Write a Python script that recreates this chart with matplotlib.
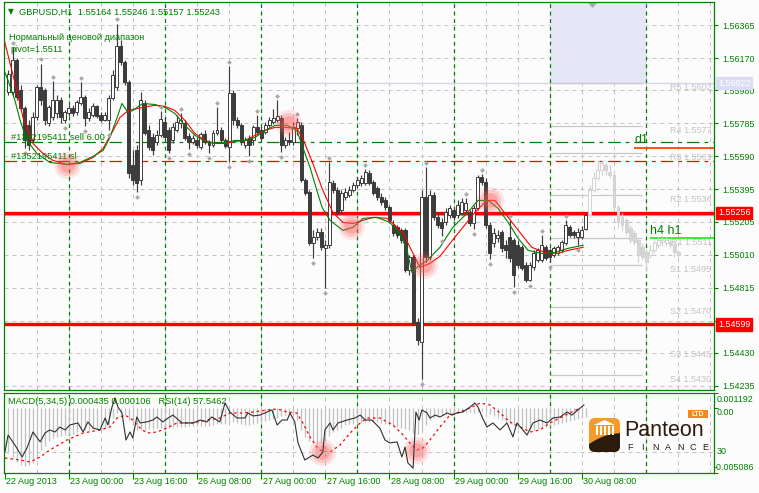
import matplotlib
matplotlib.use("Agg")
import matplotlib.pyplot as plt
import matplotlib.transforms as mtransforms
from matplotlib.patches import Rectangle, FancyBboxPatch, Polygon
import numpy as np

plt.rcParams['font.family'] = ['Liberation Sans', 'DejaVu Sans']

# ---------------- data ----------------
symbol = "GBPUSD,H1"

opens = [1.55967, 1.55967, 1.56156, 1.55979, 1.55873, 1.55773, 1.55684, 1.55820, 1.55997, 1.55979,
         1.55784, 1.55820, 1.55843, 1.55920, 1.55802, 1.55843, 1.55873, 1.55849, 1.55902, 1.55938,
         1.55814, 1.55832, 1.55885, 1.55832, 1.55802, 1.55802, 1.55932, 1.55997, 1.56244, 1.56144,
         1.56026, 1.55537, 1.55625, 1.55448, 1.55902, 1.55743, 1.55702, 1.55672, 1.55714, 1.55790,
         1.55743, 1.55684, 1.55743, 1.55784, 1.55784, 1.55708, 1.55672, 1.55684, 1.55643, 1.55719,
         1.55672, 1.55655, 1.55725, 1.55743, 1.55684, 1.55643, 1.55961, 1.55802, 1.55773, 1.55655,
         1.55696, 1.55684, 1.55761, 1.55743, 1.55731, 1.55773, 1.55790, 1.55802, 1.55814, 1.55655,
         1.55684, 1.55672, 1.55755, 1.55773, 1.55448, 1.55377, 1.55076, 1.55112, 1.55141, 1.55047,
         1.55065, 1.55430, 1.55389, 1.55271, 1.55348, 1.55360, 1.55389, 1.55419, 1.55430, 1.55430,
         1.55489, 1.55436, 1.55401, 1.55348, 1.55330, 1.55289, 1.55183, 1.55171, 1.55153, 1.55153,
         1.54917, 1.54994, 1.54610, 1.54492, 1.55348, 1.54994, 1.55360, 1.55230, 1.55200, 1.55200,
         1.55242, 1.55271, 1.55242, 1.55253, 1.55271, 1.55253, 1.55194, 1.55283, 1.55466, 1.55436,
         1.55183, 1.55076, 1.55106, 1.55141, 1.55065, 1.55112, 1.55094, 1.55065, 1.55053, 1.54947,
         1.54858, 1.54935, 1.54976, 1.54976, 1.55053, 1.55035, 1.55006, 1.55017, 1.55035, 1.55076,
         1.55171, 1.55141, 1.55112, 1.55112, 1.55164]
highs = [1.56097, 1.56233, 1.56168, 1.56009, 1.55885, 1.55802, 1.55849, 1.56009, 1.56138, 1.55991,
         1.55896, 1.56032, 1.55950, 1.55938, 1.55861, 1.55891, 1.55896, 1.55920, 1.56026, 1.55950,
         1.55873, 1.55902, 1.55896, 1.55849, 1.55849, 1.55950, 1.56097, 1.56374, 1.56274, 1.56156,
         1.56038, 1.55625, 1.55655, 1.55967, 1.55920, 1.55773, 1.55725, 1.55743, 1.55855, 1.55820,
         1.55761, 1.55784, 1.55832, 1.55843, 1.55802, 1.55725, 1.55714, 1.55702, 1.55731, 1.55743,
         1.55684, 1.55743, 1.55879, 1.55761, 1.55696, 1.56121, 1.55979, 1.55820, 1.55784, 1.55702,
         1.55714, 1.55773, 1.55832, 1.55761, 1.55790, 1.55820, 1.55867, 1.55920, 1.55832, 1.55702,
         1.55731, 1.55790, 1.55814, 1.55790, 1.55460, 1.55389, 1.55153, 1.55165, 1.55165, 1.55094,
         1.55554, 1.55448, 1.55407, 1.55389, 1.55401, 1.55413, 1.55436, 1.55466, 1.55478, 1.55513,
         1.55507, 1.55448, 1.55413, 1.55371, 1.55348, 1.55301, 1.55212, 1.55183, 1.55165, 1.55165,
         1.55006, 1.55006, 1.54634, 1.55389, 1.55525, 1.55389, 1.55377, 1.55259, 1.55224, 1.55283,
         1.55301, 1.55289, 1.55330, 1.55342, 1.55342, 1.55271, 1.55301, 1.55478, 1.55483, 1.55460,
         1.55200, 1.55165, 1.55153, 1.55153, 1.55094, 1.55212, 1.55106, 1.55094, 1.55065, 1.54964,
         1.54964, 1.55035, 1.55047, 1.55124, 1.55065, 1.55047, 1.55059, 1.55065, 1.55094, 1.55212,
         1.55183, 1.55153, 1.55165, 1.55177, 1.55246]
lows = [1.55950, 1.55955, 1.55920, 1.55861, 1.55637, 1.55625, 1.55672, 1.55802, 1.55891, 1.55773,
        1.55767, 1.55802, 1.55814, 1.55784, 1.55784, 1.55826, 1.55826, 1.55837, 1.55891, 1.55767,
        1.55796, 1.55820, 1.55814, 1.55790, 1.55796, 1.55743, 1.55920, 1.55979, 1.56132, 1.56009,
        1.55460, 1.55419, 1.55377, 1.55419, 1.55714, 1.55625, 1.55596, 1.55655, 1.55702, 1.55684,
        1.55607, 1.55666, 1.55731, 1.55755, 1.55684, 1.55631, 1.55660, 1.55637, 1.55631, 1.55660,
        1.55607, 1.55643, 1.55714, 1.55672, 1.55637, 1.55554, 1.55773, 1.55755, 1.55655, 1.55637,
        1.55590, 1.55655, 1.55714, 1.55684, 1.55719, 1.55761, 1.55778, 1.55790, 1.55613, 1.55637,
        1.55655, 1.55655, 1.55714, 1.55436, 1.55360, 1.55065, 1.54988, 1.55094, 1.55035, 1.54811,
        1.55047, 1.55371, 1.55242, 1.55253, 1.55330, 1.55348, 1.55377, 1.55401, 1.55413, 1.55419,
        1.55419, 1.55360, 1.55330, 1.55301, 1.55271, 1.55194, 1.55118, 1.55106, 1.55076, 1.54905,
        1.54888, 1.54593, 1.54475, 1.54274, 1.54964, 1.54976, 1.55212, 1.55165, 1.55118, 1.55183,
        1.55224, 1.55212, 1.55224, 1.55242, 1.55253, 1.55177, 1.55159, 1.55271, 1.55419, 1.55165,
        1.54982, 1.55053, 1.55082, 1.55023, 1.54988, 1.54964, 1.54817, 1.54929, 1.54917, 1.54846,
        1.54852, 1.54917, 1.54964, 1.54964, 1.54976, 1.54964, 1.54994, 1.55006, 1.55023, 1.55065,
        1.55112, 1.55106, 1.55065, 1.55100, 1.55157]
closes = [1.56079, 1.56156, 1.55938, 1.55873, 1.55684, 1.55655, 1.55820, 1.55997, 1.55920, 1.55802,
          1.55879, 1.55920, 1.55920, 1.55820, 1.55849, 1.55873, 1.55843, 1.55908, 1.55938, 1.55814,
          1.55849, 1.55885, 1.55826, 1.55802, 1.55832, 1.55932, 1.56068, 1.56244, 1.56144, 1.56026,
          1.55489, 1.55448, 1.55430, 1.55920, 1.55725, 1.55643, 1.55625, 1.55714, 1.55808, 1.55702,
          1.55625, 1.55761, 1.55790, 1.55802, 1.55696, 1.55672, 1.55696, 1.55655, 1.55719, 1.55672,
          1.55655, 1.55725, 1.55743, 1.55684, 1.55649, 1.55961, 1.55802, 1.55773, 1.55672, 1.55684,
          1.55655, 1.55761, 1.55731, 1.55696, 1.55773, 1.55802, 1.55814, 1.55826, 1.55655, 1.55684,
          1.55672, 1.55761, 1.55790, 1.55448, 1.55371, 1.55076, 1.55112, 1.55141, 1.55053, 1.55065,
          1.55436, 1.55389, 1.55253, 1.55371, 1.55377, 1.55389, 1.55419, 1.55448, 1.55460, 1.55495,
          1.55430, 1.55371, 1.55348, 1.55318, 1.55289, 1.55212, 1.55135, 1.55124, 1.55094, 1.54917,
          1.54994, 1.54604, 1.54504, 1.55348, 1.54994, 1.55360, 1.55230, 1.55183, 1.55165, 1.55259,
          1.55283, 1.55230, 1.55301, 1.55318, 1.55312, 1.55194, 1.55283, 1.55466, 1.55436, 1.55183,
          1.55017, 1.55135, 1.55124, 1.55047, 1.55035, 1.54988, 1.54888, 1.54947, 1.54929, 1.54858,
          1.54947, 1.55017, 1.55035, 1.55065, 1.54988, 1.54994, 1.55047, 1.55053, 1.55082, 1.55183,
          1.55124, 1.55124, 1.55141, 1.55153, 1.55243]

# projected (ghost) candles after the last bar
ghost_open = [1.55242, 1.55389, 1.55460, 1.55507, 1.55537, 1.55495, 1.55478, 1.55289, 1.55230, 1.55212,
              1.55165, 1.55135, 1.55094, 1.55053, 1.55023, 1.55006, 1.55035, 1.55065, 1.55082, 1.55076,
              1.55082, 1.55065, 1.55023]
ghost_close = [1.55389, 1.55460, 1.55507, 1.55548, 1.55507, 1.55478, 1.55289, 1.55200, 1.55183, 1.55141,
               1.55094, 1.55082, 1.55006, 1.54994, 1.54964, 1.55035, 1.55076, 1.55094, 1.55094, 1.55094,
               1.55065, 1.55023, 1.55006]
ghost_high = [1.55419, 1.55495, 1.55566, 1.55566, 1.55554, 1.55537, 1.55495, 1.55301, 1.55253, 1.55224,
              1.55183, 1.55153, 1.55106, 1.55076, 1.55047, 1.55065, 1.55094, 1.55112, 1.55124, 1.55118,
              1.55106, 1.55094, 1.55035]
ghost_low = [1.55230, 1.55377, 1.55448, 1.55478, 1.55478, 1.55460, 1.55271, 1.55165, 1.55153, 1.55124,
             1.55076, 1.55065, 1.54964, 1.54976, 1.54905, 1.54988, 1.55017, 1.55047, 1.55059, 1.55059,
             1.55047, 1.54994, 1.54988]

fractal_up = [1, 8, 11, 18, 27, 38, 43, 52, 55, 62, 67, 72, 80, 89, 104, 114, 118, 125, 133, 139]
fractal_dn = [4, 14, 19, 25, 32, 40, 45, 50, 55, 60, 68, 76, 79, 103, 108, 116, 120, 126, 130, 135, 142]

red_x = [-0.9, 0.4, 2.1, 3.6, 6.1, 8.6, 11.1, 14.6, 17.8, 21.1, 23.6, 26.1, 27.8, 29.6, 31.0, 33.5, 36.5,
         39.0, 41.5, 44.0, 46.5, 49.0, 51.5, 54.0, 56.5, 59.0, 61.5, 64.0, 66.5, 69.0, 71.9, 73.4, 75.9,
         78.4, 80.9, 83.4, 85.9, 88.4, 90.9, 94.4, 95.9, 98.4, 100.9, 102.6, 105.1, 107.6, 111.3, 116.3,
         119.3, 121.3, 124.6, 128.1, 130.5, 133.8, 137.0, 139.5, 143.3]
red_y = [1.56262, 1.56138, 1.55979, 1.55820, 1.55666, 1.55607, 1.55566, 1.55542, 1.55548, 1.55584, 1.55637,
         1.55743, 1.55820, 1.55855, 1.55867, 1.55879, 1.55891, 1.55885, 1.55861, 1.55802, 1.55725, 1.55684,
         1.55666, 1.55666, 1.55678, 1.55684, 1.55714, 1.55743, 1.55761, 1.55761, 1.55755, 1.55696, 1.55548,
         1.55389, 1.55259, 1.55200, 1.55194, 1.55212, 1.55230, 1.55224, 1.55194, 1.55135, 1.55017, 1.54935,
         1.54958, 1.55000, 1.55112, 1.55259, 1.55330, 1.55330, 1.55230, 1.55124, 1.55053, 1.55023, 1.55017,
         1.55035, 1.55053]
green_x = [-0.9, -0.1, 1.6, 2.9, 4.6, 7.1, 10.3, 14.6, 17.8, 21.1, 23.6, 25.3, 27.1, 28.3, 29.8, 31.0, 33.5,
           36.5, 39.0, 41.5, 44.0, 46.5, 49.0, 51.5, 54.0, 56.5, 59.0, 61.5, 64.0, 66.5, 69.5, 71.9, 73.4,
           75.2, 76.9, 78.2, 80.2, 83.4, 85.9, 88.4, 91.9, 95.1, 97.6, 99.4, 100.6, 101.9, 104.4, 107.6,
           110.8, 114.3, 117.1, 119.6, 122.1, 124.6, 127.1, 129.6, 133.0, 136.3, 139.5, 143.3]
green_y = [1.56085, 1.56038, 1.55920, 1.55802, 1.55684, 1.55607, 1.55554, 1.55542, 1.55554, 1.55590, 1.55625,
           1.55702, 1.55820, 1.55902, 1.55849, 1.55861, 1.55902, 1.55896, 1.55879, 1.55843, 1.55773, 1.55714,
           1.55678, 1.55666, 1.55672, 1.55684, 1.55684, 1.55702, 1.55743, 1.55773, 1.55773, 1.55743, 1.55643,
           1.55525, 1.55389, 1.55289, 1.55212, 1.55153, 1.55171, 1.55224, 1.55230, 1.55200, 1.55135, 1.55035,
           1.54905, 1.54935, 1.54976, 1.55053, 1.55171, 1.55253, 1.55330, 1.55330, 1.55283, 1.55200, 1.55106,
           1.55035, 1.55017, 1.55023, 1.55047, 1.55065]

macd_hist = [-0.00352, -0.00391, -0.00422, -0.00446, -0.00454, -0.00446, -0.00430, -0.00391, -0.00328, -0.00297,
             -0.00258, -0.00234, -0.00226, -0.00218, -0.00210, -0.00210, -0.00203, -0.00187, -0.00171, -0.00171,
             -0.00171, -0.00163, -0.00163, -0.00163, -0.00156, -0.00132, -0.00077, -0.00038, -0.00038, -0.00054,
             -0.00093, -0.00132, -0.00171, -0.00171, -0.00171, -0.00163, -0.00163, -0.00156, -0.00156, -0.00156,
             -0.00156, -0.00148, -0.00148, -0.00148, -0.00148, -0.00140, -0.00140, -0.00140, -0.00140, -0.00140,
             -0.00140, -0.00132, -0.00124, -0.00124, -0.00124, -0.00116, -0.00108, -0.00116, -0.00124, -0.00132,
             -0.00132, -0.00124, -0.00116, -0.00108, -0.00101, -0.00093, -0.00085, -0.00077, -0.00061, -0.00054,
             -0.00038, -0.00054, -0.00093, -0.00171, -0.00226, -0.00258, -0.00273, -0.00281, -0.00273, -0.00258,
             -0.00218, -0.00187, -0.00171, -0.00156, -0.00132, -0.00124, -0.00124, -0.00116, -0.00116, -0.00108,
             -0.00108, -0.00108, -0.00108, -0.00116, -0.00124, -0.00132, -0.00140, -0.00148, -0.00156, -0.00163,
             -0.00171, -0.00195, -0.00203, -0.00171, -0.00132, -0.00093, -0.00077, -0.00069, -0.00054, -0.00046,
             -0.00046, -0.00038, -0.00038, -0.00030, -0.00030, -0.00030, -0.00038, -0.00030, -0.00022, -0.00030,
             -0.00046, -0.00061, -0.00077, -0.00093, -0.00108, -0.00124, -0.00140, -0.00156, -0.00163, -0.00171,
             -0.00171, -0.00171, -0.00163, -0.00156, -0.00148, -0.00140, -0.00132, -0.00124, -0.00116, -0.00108,
             -0.00101, -0.00093, -0.00085, -0.00077, -0.00069]
signal_x = [-0.9, 2.9, 5.4, 7.9, 10.3, 14.6, 18.6, 22.8, 25.3, 27.1, 29.1, 31.0, 32.8, 34.5, 37.0, 39.5, 42.0,
            46.0, 49.5, 52.7, 55.2, 58.5, 61.0, 64.5, 67.0, 69.5, 71.9, 73.4, 75.2, 76.9, 78.4, 80.2, 82.7,
            85.2, 87.7, 89.4, 92.6, 95.9, 98.4, 100.1, 101.9, 103.4, 105.1, 107.6, 110.1, 112.6, 115.1, 117.6,
            120.1, 122.6, 125.1, 127.6, 130.1, 132.5, 135.0, 137.5, 140.0, 142.5]
signal_v = [-0.003909, -0.004066, -0.004223, -0.003831, -0.003281, -0.002496, -0.001947, -0.001712, -0.001476,
            -0.000770, -0.000535, -0.000927, -0.001555, -0.001947, -0.001869, -0.001555, -0.001162, -0.001162,
            -0.000927, -0.000770, -0.000378, -0.000378, -0.000299, -0.000142, -0.000064, -0.000299, -0.000378,
            -0.001162, -0.002261, -0.003046, -0.003438, -0.003438, -0.002889, -0.001947, -0.001162, -0.000770,
            -0.000770, -0.001319, -0.002104, -0.002732, -0.003281, -0.003124, -0.002496, -0.001476, -0.000535,
            -0.000299, 0.000015, 0.000407, 0.000250, -0.000378, -0.001084, -0.001476, -0.001869, -0.001712,
            -0.001162, -0.000770, -0.000378, 0.000015]
rsi_x = [-0.9, -0.1, 1.6, 3.4, 4.6, 6.1, 7.9, 9.1, 10.3, 11.6, 12.8, 14.1, 15.3, 17.3, 18.6, 19.8, 21.1, 22.8,
         24.1, 24.8, 25.8, 26.6, 27.3, 28.3, 29.3, 30.3, 31.0, 32.0, 32.8, 34.5, 36.0, 37.0, 38.5, 39.8, 41.0,
         43.3, 46.0, 47.8, 49.5, 50.7, 52.7, 54.0, 55.2, 57.0, 59.0, 59.7, 61.0, 62.7, 64.5, 65.7, 67.0, 68.2,
         69.5, 70.2, 71.4, 72.2, 73.9, 75.9, 77.2, 78.4, 78.9, 80.2, 80.9, 82.2, 84.4, 86.4, 87.7, 89.0, 90.6,
         92.6, 93.9, 95.1, 96.9, 98.1, 98.9, 99.6, 100.9, 101.6, 102.4, 103.1, 104.4, 105.1, 106.4, 107.6,
         109.4, 110.6, 111.8, 113.3, 115.1, 116.3, 117.1, 118.1, 119.3, 120.8, 122.6, 124.3, 125.8, 126.8,
         128.3, 129.3, 130.8, 132.5, 134.3, 135.8, 137.6, 139.3, 140.5, 142.0, 143.5]
rsi_v = [30.0, 39.9, 34.1, 27.1, 32.3, 41.7, 35.9, 41.1, 42.9, 41.7, 44.6, 42.9, 45.8, 47.0, 41.7, 47.6, 44.0,
         42.9, 49.9, 45.8, 56.3, 61.6, 56.3, 52.8, 37.0, 41.7, 38.2, 50.5, 47.0, 47.6, 48.7, 50.5, 47.6, 49.9,
         51.6, 47.0, 47.0, 48.7, 47.6, 50.5, 47.6, 58.7, 53.4, 49.9, 49.9, 52.8, 51.1, 51.6, 53.4, 54.6, 45.8,
         48.7, 48.7, 52.8, 47.6, 35.3, 25.3, 28.2, 26.5, 30.0, 42.9, 47.0, 42.9, 47.0, 48.7, 49.9, 51.6, 48.7,
         48.7, 44.0, 37.0, 35.3, 35.9, 27.1, 32.9, 23.6, 20.6, 53.4, 48.7, 54.6, 52.8, 49.9, 51.6, 50.5, 52.8,
         51.6, 52.8, 53.4, 56.3, 58.7, 56.3, 50.5, 44.6, 47.0, 42.9, 47.0, 38.8, 47.0, 42.9, 39.9, 47.0, 48.7,
         47.0, 49.9, 50.5, 53.4, 51.6, 54.6, 57.5]

signal_bars = [14.6, 69.7, 85.4, 103.6, 120.1]
signal_prices = [1.55537, 1.55784, 1.55177, 1.54947, 1.55330]
ind_signal_bars = [78.2, 101.6]
ind_signal_vals = [-0.00344, -0.00328]

price_ticks = [1.56365, 1.56170, 1.55980, 1.55785, 1.55590, 1.55395, 1.55205, 1.55010, 1.54815, 1.54620,
               1.54430, 1.54235]
hidden_ticks = [1.54620]          # label completely covered by the 1.54599 marker
date_bars = [-0.9, 15, 31, 47, 63, 79, 95, 111, 127, 143]
date_labels = ['22 Aug 2013', '23 Aug 00:00', '23 Aug 16:00', '26 Aug 08:00', '27 Aug 00:00', '27 Aug 16:00',
               '28 Aug 08:00', '29 Aug 00:00', '29 Aug 16:00', '30 Aug 08:00']
day_bars = [15, 39, 63, 87, 111, 135, 159]

levels_red = [1.55256, 1.54599]
sell_level = 1.55672
sl_level = 1.55560
d1_level = 1.55637
h1_level = 1.55106
zone_low = 1.56022
zone_x = [135, 159]
pivot_value = 1.5511
pivot_names = ['R5', 'R4', 'R3', 'R2', 'R1', 'S1', 'S2', 'S3', 'S4']
pivot_vals = [1.5602, 1.5577, 1.5561, 1.5536, 1.5511, 1.5495, 1.5470, 1.5445, 1.5430]
macd_max, macd_min = 0.001192, -0.005086
macd_txt = "MACD(5,34,5) 0.000435 0.000106   RSI(14) 57.5462"

# ---------------- layout ----------------
W, H = 759, 493
BG = '#fcfcfc'
GREEN = '#008000'
CANDLE = '#3c3c3c'
GRID = '#c2c2c2'

fig = plt.figure(figsize=(W / 100, H / 100), dpi=100, facecolor=BG)


def fx(px):
    return px / W


def fy(py):
    return 1 - py / H


X0, X1 = -1.12, 175.94
ax = fig.add_axes([fx(4), fy(390), (714 - 4) / W, (390 - 2) / H], facecolor=BG)
ax2 = fig.add_axes([fx(4), fy(473), (714 - 4) / W, (473 - 393) / H], facecolor=BG)
for a in (ax, ax2):
    a.set_xlim(X0, X1)
    for s in a.spines.values():
        s.set_color(GREEN)
        s.set_linewidth(0.9)
ax.set_ylim(1.54211, 1.56501)
ax2.set_ylim(macd_min, macd_max)
YTOP = ax.get_ylim()[1]

# grids
for a in (ax, ax2):
    for b in np.arange(7, 176, 8):
        a.axvline(b, color=GRID, lw=0.72, ls=(0, (4, 4)), zorder=0)
    for b in day_bars:
        a.axvline(b, color=GREEN, lw=0.9, ls=(0, (3, 3)), zorder=1)
for t in price_ticks:
    ax.axhline(t, color=GRID, lw=0.72, ls=(0, (4, 4)), zorder=0)

# lavender zone
ax.add_patch(Rectangle((zone_x[0], zone_low), zone_x[1] - zone_x[0], YTOP - zone_low,
                       facecolor='#e6e6f7', edgecolor='none', zorder=0.5))
ax.axhline(zone_low, color='#d6d6f0', lw=1.0, zorder=0.6)

# pivot lines
ax.hlines(pivot_vals, 135, 158, color='#c8c8c8', lw=0.9, zorder=0.7)
for n_, v in zip(pivot_names, pivot_vals):
    ax.text(175.3, v, f'{n_} {v:.4f}', ha='right', va='top', fontsize=6.5, color='#c4c4c4', zorder=0.8)

# horizontal levels
for lv in levels_red:
    ax.axhline(lv, color='#ff0000', lw=2.4, zorder=2)
ax.axhline(closes[-1], color='#b8b8b8', lw=0.9, zorder=1.9)
ax.axhline(sell_level, color=GREEN, lw=0.9, ls=(0, (10, 4, 3, 4)), zorder=2)
ax.axhline(sl_level, color='#ff0000', lw=0.9, ls=(0, (10, 4, 3, 4)), zorder=2)
ax.hlines(d1_level, 156, X1, color='#ff4500', lw=1.3, zorder=2)
ax.hlines(h1_level, 160, X1, color='#22ee22', lw=1.3, zorder=2)


def draw_candles(a, xs_, o, h, l, c, edge, bull, bear, z):
    a.vlines(xs_, l, h, color=edge, lw=0.85, zorder=z)
    for x, oo, cc in zip(xs_, o, c):
        lo, hi = min(oo, cc), max(oo, cc)
        hgt = max(hi - lo, 0.00005)
        a.add_patch(Rectangle((x - 0.37, lo), 0.74, hgt, facecolor=bull if cc >= oo else bear,
                              edgecolor=edge, lw=0.7, zorder=z + 0.1))


n = len(closes)
xs = np.arange(n)
gx = np.arange(n, n + len(ghost_close))
draw_candles(ax, gx, ghost_open, ghost_high, ghost_low, ghost_close, '#d2d2d2', '#ffffff', '#d6d6d6', 2.5)
draw_candles(ax, xs, opens, highs, lows, closes, CANDLE, '#ffffff', CANDLE, 3)

# moving averages
ax.plot(red_x, red_y, color='#ff0000', lw=0.8, zorder=4)
ax.plot(green_x, green_y, color=GREEN, lw=0.8, zorder=4.1)

# fractals
hi_arr, lo_arr = np.array(highs), np.array(lows)
ax.scatter(fractal_up, hi_arr[fractal_up] + 0.00025, marker='D', s=6, color='#a8a8a8', zorder=5, lw=0)
ax.scatter(fractal_dn, lo_arr[fractal_dn] - 0.00025, marker='D', s=6, color='#a8a8a8', zorder=5, lw=0)

# pink signal glows
for s_, al in ((380, 0.14), (230, 0.22), (110, 0.3)):
    ax.scatter(signal_bars, signal_prices, s=s_, color='#ff5a5a', alpha=al, lw=0, zorder=6)
    ax2.scatter(ind_signal_bars, ind_signal_vals, s=s_, color='#ff5a5a', alpha=al, lw=0, zorder=6)

# texts in chart
ax.text(0.6, sell_level + 0.00004, '#1352195411 sell 6.00', fontsize=6.7, color=GREEN, va='bottom', zorder=5)
ax.text(0.6, sl_level + 0.00004, '#1352195411 sl', fontsize=6.7, color=GREEN, va='bottom', zorder=5)
ax.text(156, d1_level + 0.00012, 'd1', fontsize=9, color=GREEN, va='bottom', zorder=5)
ax.text(160, h1_level + 0.00008, 'h4 h1', fontsize=9, color=GREEN, va='bottom', zorder=5)

fig.text(fx(8), fy(12), '▼', fontsize=5.5, color=GREEN, va='center', family='DejaVu Sans')
fig.text(fx(19), fy(12), f'{symbol}  {opens[-1]:.5f} {highs[-1]:.5f} {lows[-1]:.5f} {closes[-1]:.5f}',
         fontsize=6.7, color=GREEN, va='center')
fig.text(fx(9), fy(38), 'Нормальный ценовой диапазон', fontsize=6.6, color=GREEN, va='center')
fig.text(fx(10), fy(50), f'pivot={pivot_value:.4f}', fontsize=6.6, color=GREEN, va='center')

# right price axis
ax.yaxis.tick_right()
ax.set_yticks(price_ticks)
ax.set_yticklabels(['' if t in hidden_ticks else f'{t:.5f}' for t in price_ticks])
ax.tick_params(axis='y', colors=GREEN, length=3, width=0.8, pad=3, labelsize=6.4)
ax.tick_params(axis='x', length=0, labelbottom=False)

tbox = mtransforms.blended_transform_factory(fig.transFigure, ax.transData)


def price_box(val, fc, tc='white'):
    ax.text(fx(718), val, f'{val:.5f}', transform=tbox, ha='left', va='center', fontsize=6.4, color=tc,
            bbox=dict(boxstyle='square,pad=0.2', fc=fc, ec=fc), zorder=20, clip_on=False)


price_box(levels_red[0], '#ff0000')
price_box(levels_red[1], '#ff0000')
price_box(zone_low, '#dcdcf4')

# indicator panel
axr = ax2.twinx()
axr.set_ylim(17.71, 64.52)
axr.set_xlim(X0, X1)
axr.axis('off')
axr.axhline(30, color=GRID, lw=0.72, ls=(0, (4, 4)), zorder=0)
ax2.vlines(xs, 0, macd_hist, color='#c0c0c0', lw=0.9, zorder=2)
ax2.plot(signal_x, signal_v, color='#ff0000', lw=0.9, ls=(0, (2, 2.5)), zorder=3)
axr.plot(rsi_x, rsi_v, color='#303030', lw=0.8, zorder=4)
ax2.text((8 - 4) / 710, (473 - 402) / 80, macd_txt, transform=ax2.transAxes, fontsize=6.7, color=GREEN,
         va='center', ha='left', zorder=8)

ax2.yaxis.tick_right()
ax2.set_yticks([macd_max, 0.0, macd_min])
ax2.set_yticklabels([])
ax2.tick_params(axis='y', colors=GREEN, length=3, width=0.8)
ax2.set_xticks(date_bars)
ax2.set_xticklabels([])
ax2.tick_params(axis='x', colors=GREEN, length=4, width=0.8, direction='out')

t2 = mtransforms.blended_transform_factory(fig.transFigure, ax2.transData)
tr = mtransforms.blended_transform_factory(fig.transFigure, axr.transData)
ta = mtransforms.blended_transform_factory(fig.transFigure, ax2.transAxes)
fig_kw = dict(fontsize=6.4, color=GREEN, ha='left', clip_on=False)
ax2.text(fx(717), 0.92, f'{macd_max:.6f}', transform=ta, va='center', **fig_kw)
ax2.text(fx(717), 0.0, '0.00', transform=t2, va='top', **fig_kw)
axr.text(fx(717), 30, '30', transform=tr, va='center', **fig_kw)
ax2.text(fx(714), 0.075, f'{macd_min:.6f}', transform=ta, va='center', **fig_kw)

tx = mtransforms.blended_transform_factory(ax2.transData, fig.transFigure)
for b, lab in zip(date_bars, date_labels):
    ax2.text(b + 0.35, fy(481), lab, transform=tx, fontsize=6.5, color=GREEN, ha='left', va='center',
             clip_on=False)

# overlay for decorations (logo, marker)
axo = fig.add_axes([0, 0, 1, 1], zorder=10)
axo.set_xlim(0, W)
axo.set_ylim(H, 0)
axo.axis('off')
axo.add_patch(Polygon([(588, 3), (597, 3), (592.5, 8)], closed=True, fc='#a8a8a8', ec='none'))

icon = FancyBboxPatch((589, 418), 31, 34, boxstyle='round,pad=0,rounding_size=6', fc='#f39a2b', ec='none')
axo.add_patch(icon)
tt = np.linspace(589, 620, 30)
wave = 444 - (tt - 589) * 0.35 - 2.5 * np.sin((tt - 589) / 31 * np.pi)
dark = Polygon(list(zip(tt, wave)) + [(620, 453), (589, 453)], closed=True, fc='#2b1b0d', ec='none')
axo.add_patch(dark)
dark.set_clip_path(icon)
axo.add_patch(Polygon([(594, 425), (604.5, 420), (615, 425)], closed=True, fc='white', ec='none'))
for cx in (596, 600, 604, 608, 612):
    axo.add_patch(Rectangle((cx, 426), 1.8, 9, fc='white', ec='none'))
axo.text(624, 430, 'Panteon', fontsize=15.5, color='#2b1b0d', ha='left', va='center')
for k, ch in enumerate('FINANCE'):
    axo.text(630 + k * 12.6, 448, ch, fontsize=6.5, color='#2b1b0d', ha='center', va='center')
axo.add_patch(Rectangle((688, 410), 20, 8, fc='#f08a1c', ec='none'))
axo.text(698, 414, 'LTD', fontsize=4.8, color='white', ha='center', va='center', fontweight='bold')

fig.savefig('out.png', dpi=100, facecolor=BG)
